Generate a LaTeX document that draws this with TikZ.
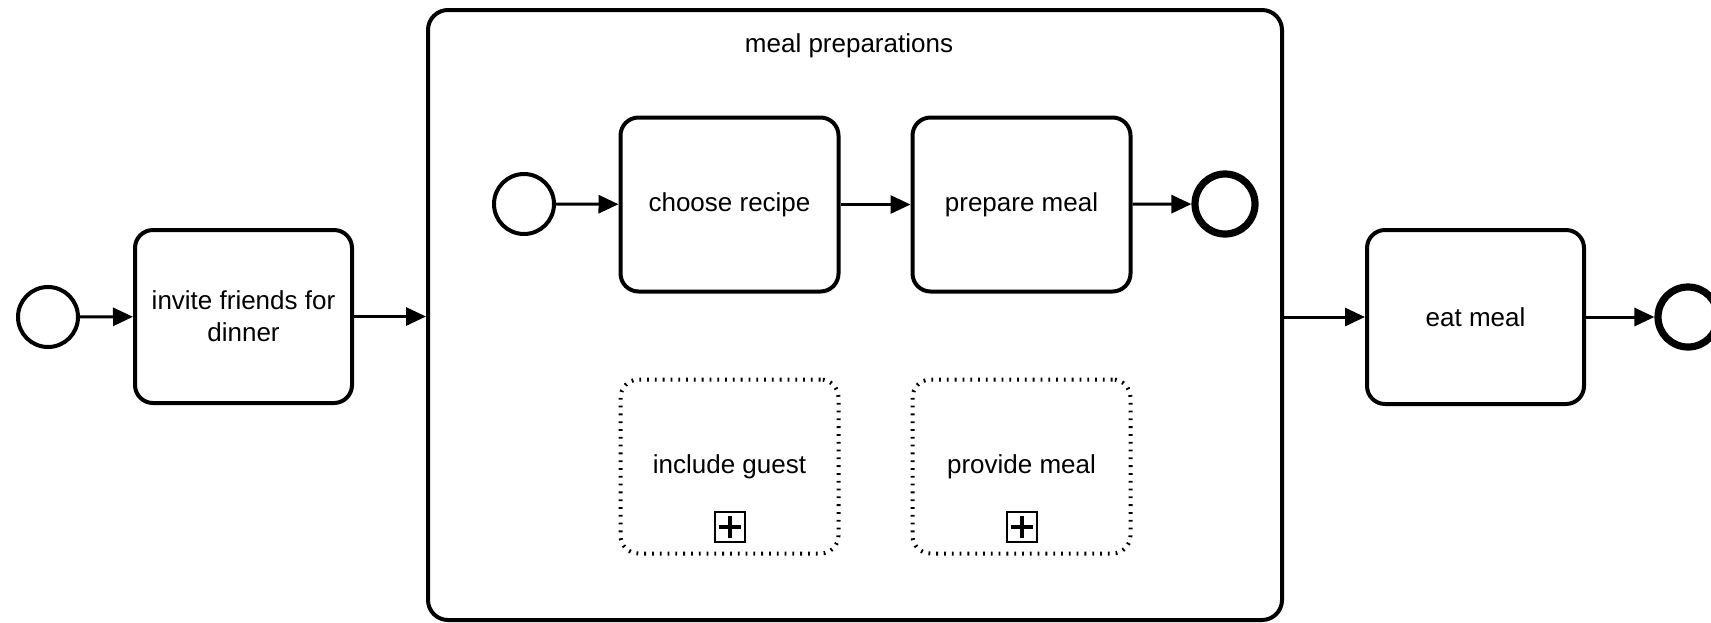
\documentclass[tikz,border=0pt]{standalone}
\usepackage{fontspec}
\setmainfont{Liberation Sans}
\usetikzlibrary{arrows.meta,calc}
\tikzset{
  task/.style={draw, line width=2pt, rounded corners=9pt, minimum width=109pt, minimum height=87pt, align=center, inner sep=0pt, font=\fontsize{13pt}{16pt}\selectfont},
  collapsed/.style={task, line width=2pt, dash pattern=on 0.9pt off 3pt},
  subproc/.style={draw, line width=2pt, rounded corners=10pt, minimum width=427pt, minimum height=305pt, inner sep=0pt},
  startev/.style={draw, circle, line width=2pt, minimum size=30pt, inner sep=0pt},
  endev/.style={draw, circle, line width=3.6pt, minimum size=30pt, inner sep=0pt},
  flow/.style={line width=1.5pt, -{Triangle[length=10pt,width=9pt]}},
  plusbox/.style={draw, line width=1pt, minimum size=15pt, inner sep=0pt,
    path picture={
      \draw[line width=2pt] ([xshift=-5.5pt]path picture bounding box.center) -- ([xshift=5.5pt]path picture bounding box.center);
      \draw[line width=2pt] ([yshift=-5.5pt]path picture bounding box.center) -- ([yshift=5.5pt]path picture bounding box.center);}},
  lbl/.style={inner sep=0pt, font=\fontsize{13pt}{16pt}\selectfont}
}
\begin{document}
\begin{tikzpicture}[x=0.5pt,y=-0.5pt]
\clip (0,0) rectangle (1711,622);
\fill[white] (0,0) rectangle (1711,622);
% outer process
\node[startev] (s0) at (48,317) {};
\node[task, minimum width=108.5pt, minimum height=86.5pt] (invite) at (243.5,316.5) {invite friends for\\dinner};
\node[subproc] (prep) at (855,315) {};
\node[lbl] (preptitle) at (849,46) {meal preparations};
\node[task, minimum width=108.5pt] (eat) at (1475.5,317) {eat meal};
\node[endev] (e0) at (1688,317) {};
% inner process
\node[startev] (s1) at (524,204) {};
\node[task] (choose) at (729.5,204.5) {choose recipe};
\node[task] (prepare) at (1021.5,204.5) {prepare meal};
\node[endev] (e1) at (1225,204) {};
\node[collapsed] (guest) at (729.5,466.5) {include guest};
\node[collapsed] (provide) at (1021.5,466.5) {provide meal};
\node[plusbox] (pg) at (729.5,527) {};
\node[plusbox] (pp) at (1021.5,527) {};
% flows
\draw[flow] (s0) -- (invite);
\draw[flow] (invite.east) -- (invite.east -| prep.west);
\draw[flow] (eat.west -| prep.east) -- (eat.west);
\draw[flow] (eat) -- (e0);
\draw[flow] (s1) -- (choose);
\draw[flow] (choose) -- (prepare);
\draw[flow] (prepare) -- (e1);
\end{tikzpicture}
\end{document}
